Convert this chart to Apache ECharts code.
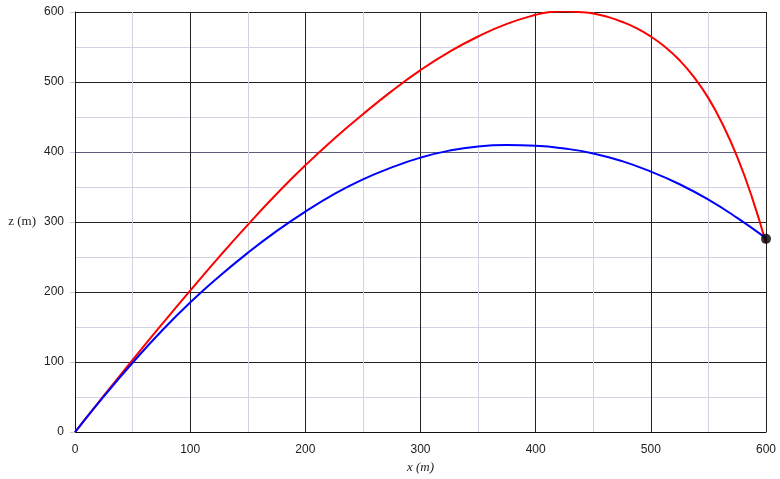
<!DOCTYPE html>
<html>
  <head>
    <meta charset="utf-8" />
    <title>Trajectories</title>
    <script src="https://cdn.jsdelivr.net/npm/echarts@6/dist/echarts.min.js"></script>
    <style>
      html, body { margin: 0; padding: 0; background: #fff; }
    </style>
  </head>
  <body>
    <div id="main" style="width: 780px;height:479px;"></div>
    <script type="text/javascript">
      // red trajectory: x (m) and height z (m)
      var redX = [0, 25, 50, 75, 100, 125, 150, 175, 200, 225, 250, 275, 300, 325, 350, 375,
                  400, 412.5, 425, 437.5, 450, 462.5, 475, 487.5, 500, 512.5, 525, 537.5,
                  550, 562.5, 575, 587.5, 600];
      var redZ = [0, 52, 103, 153, 202, 250, 296, 340, 381, 419, 454, 487, 517, 543, 565, 583,
                  596, 600, 601, 600, 598, 593, 586, 577, 565, 550, 531, 507,
                  477, 439, 393, 337, 270];
      // blue trajectory
      var blueX = [0, 25, 50, 75, 100, 125, 150, 175, 200, 225, 250, 275, 300, 325, 350,
                   375, 400, 425, 450, 475, 500, 525, 550, 575, 600];
      var blueZ = [0, 51, 99, 144, 185, 222, 256, 287, 315, 340, 361, 378, 392, 402, 408,
                   410, 409, 405, 398, 387, 372, 354, 332, 306, 277];
      var endPoint = [600, 276];

      function pairs(xs, zs) {
        var out = [];
        for (var i = 0; i < xs.length; i++) {
          out.push([xs[i], zs[i]]);
        }
        return out;
      }

      var chartDom = document.getElementById('main');
      var myChart = echarts.init(chartDom);
      var option;

      var labelFont = { color: '#222', fontFamily: 'Liberation Sans', fontSize: 12 };
      var minorLine = { show: true, lineStyle: { color: '#d2d2e2', width: 1 } };

      option = {
        animation: false,
        backgroundColor: '#fff',
        grid: { left: 75, right: 14, top: 12, bottom: 44 },
        xAxis: {
          type: 'value',
          min: 0,
          max: 600,
          interval: 100,
          name: 'x (m)',
          nameLocation: 'middle',
          nameGap: 27,
          nameTextStyle: { fontFamily: 'Liberation Serif', fontStyle: 'italic', fontSize: 13, color: '#222' },
          axisLine: { lineStyle: { color: '#111', width: 1 } },
          axisTick: { show: false },
          axisLabel: Object.assign({ margin: 12 }, labelFont),
          splitLine: { show: true, lineStyle: { color: '#222', width: 1 } },
          minorTick: { show: false, splitNumber: 2 },
          minorSplitLine: minorLine
        },
        yAxis: {
          type: 'value',
          min: 0,
          max: 600,
          interval: 100,
          name: 'z (m)',
          nameLocation: 'middle',
          nameRotate: 0,
          nameGap: 39,
          nameTextStyle: { fontFamily: 'Liberation Serif', fontSize: 13, color: '#222' },
          axisLine: { lineStyle: { color: '#111', width: 1 } },
          axisTick: { show: true, length: 5, lineStyle: { color: '#c8c8d8' } },
          axisLabel: Object.assign({ margin: 11 }, labelFont),
          splitLine: {
            show: true,
            lineStyle: { color: ['#222', '#222', '#222', '#222', '#5e5e7a', '#222', '#222'], width: 1 }
          },
          minorTick: { show: false, splitNumber: 2 },
          minorSplitLine: minorLine
        },
        series: [
          {
            name: 'red',
            type: 'line',
            smooth: 0.5,
            showSymbol: false,
            lineStyle: { color: '#ff0000', width: 2 },
            data: pairs(redX, redZ),
            z: 3
          },
          {
            name: 'blue',
            type: 'line',
            smooth: 0.5,
            showSymbol: false,
            lineStyle: { color: '#0000ff', width: 2 },
            data: pairs(blueX, blueZ),
            z: 4
          },
          {
            name: 'end',
            type: 'scatter',
            symbolSize: 10,
            itemStyle: { color: '#000' },
            data: [endPoint],
            z: 5
          }
        ]
      };

      option && myChart.setOption(option);
    </script>
  </body>
</html>
